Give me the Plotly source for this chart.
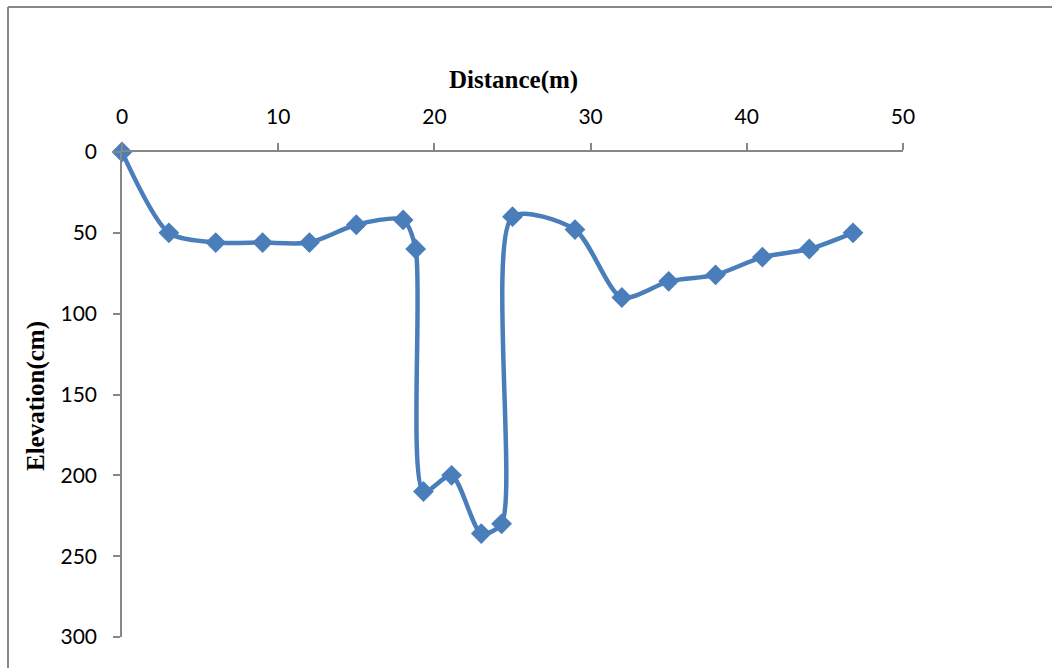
import plotly.graph_objects as go

distance_m = [0, 3, 6, 9, 12, 15, 18, 18.8, 19.3, 21.1, 23.0, 24.3, 25.0, 29, 32, 35, 38, 41, 44, 46.8]
elevation_cm = [0, 50, 56, 56, 56, 45, 42, 60, 210, 200, 236, 230, 40, 48, 90, 80, 76, 65, 60, 50]
x_ticks = [0, 10, 20, 30, 40, 50]
y_ticks = [0, 50, 100, 150, 200, 250, 300]

W, H = 1052, 668
L, R, T, B = 122, 903, 152, 637

fig = go.Figure()
fig.add_trace(go.Scatter(
    x=distance_m, y=elevation_cm, mode="lines+markers",
    line=dict(color="#4A7EBB", width=4.5, shape="spline", smoothing=0.75),
    marker=dict(symbol="diamond", size=16, color="#4A7EBB"),
    cliponaxis=False, showlegend=False,
))

tick_font = dict(family="Lato, Open Sans, sans-serif", size=21, color="#000000")
fig.update_layout(
    width=W, height=H,
    margin=dict(l=L, r=W - R, t=T, b=H - B, pad=0),
    paper_bgcolor="white", plot_bgcolor="white",
    xaxis=dict(
        side="top", range=[0, 50], tickvals=x_ticks, showgrid=False, zeroline=False,
        showline=True, linecolor="#878787", linewidth=1.5,
        ticks="outside", ticklen=7, tickcolor="#878787", tickwidth=1.5,
        tickfont=tick_font, ticklabelstandoff=11,
    ),
    yaxis=dict(
        range=[300, 0], tickvals=y_ticks, showgrid=False, zeroline=False,
        showline=True, linecolor="#878787", linewidth=1.5,
        ticks="outside", ticklen=7, tickcolor="#878787", tickwidth=1.5,
        tickfont=tick_font, ticklabelstandoff=12,
    ),
    shapes=[
        dict(type="line", xref="paper", yref="paper",
             x0=-(L - 8) / (R - L), x1=(W - L) / (R - L),
             y0=1 + (T - 7) / (B - T), y1=1 + (T - 7) / (B - T),
             line=dict(color="#878787", width=2)),
        dict(type="line", xref="paper", yref="paper",
             x0=-(L - 8) / (R - L), x1=-(L - 8) / (R - L),
             y0=1 + (T - 7) / (B - T), y1=-(H - B) / (B - T),
             line=dict(color="#878787", width=2)),
    ],
    annotations=[
        dict(text="<b>Distance(m)</b>", xref="paper", yref="paper",
             x=(513 - L) / (R - L), y=1 + (T - 80) / (B - T),
             xanchor="center", yanchor="middle", showarrow=False,
             font=dict(family="Liberation Serif, Times New Roman, serif", size=25, color="#000000")),
        dict(text="<b>Elevation(cm)</b>", xref="paper", yref="paper",
             x=-(L - 36) / (R - L), y=(B - 396) / (B - T),
             xanchor="center", yanchor="middle", showarrow=False, textangle=-90,
             font=dict(family="Liberation Serif, Times New Roman, serif", size=25, color="#000000")),
    ],
)

fig.write_html("out.html")
